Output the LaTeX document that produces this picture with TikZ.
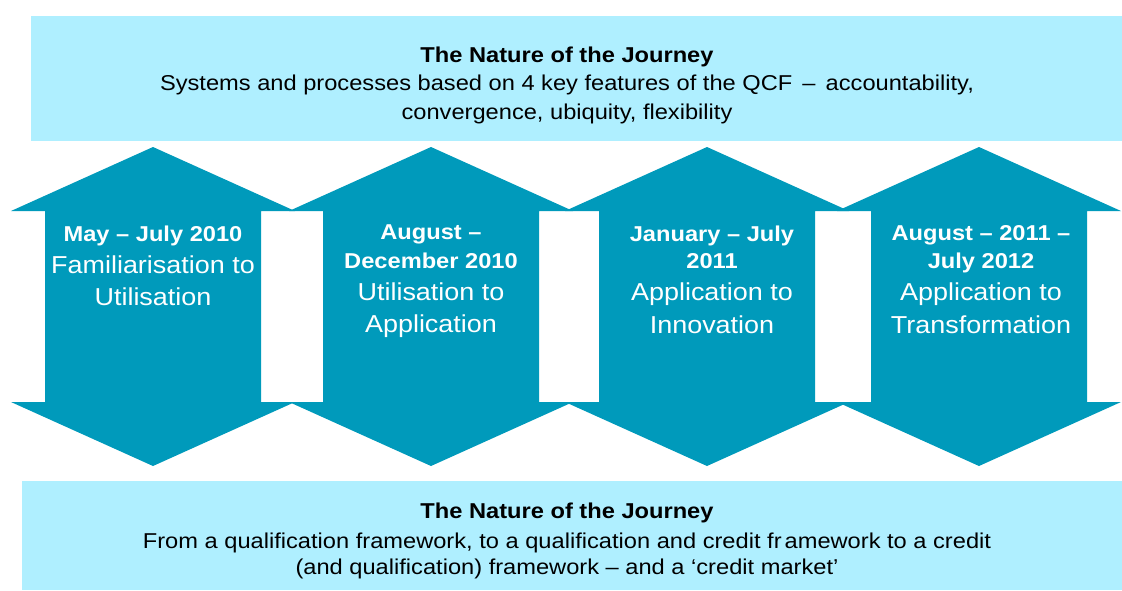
\documentclass[tikz,border=0pt]{standalone}
\usepackage{fontspec}
\setmainfont{Liberation Sans}[FakeStretch=1.1]
\definecolor{boxc}{RGB}{175,239,255}
\definecolor{arrowc}{RGB}{0,154,187}
\begin{document}
\begin{tikzpicture}[x=1pt,y=-1pt,
  panel/.style={fill=boxc},
  phase/.style={fill=arrowc},
  boxtxt/.style={anchor=base,inner sep=0pt,text=black,font=\fontsize{21.5}{26}\selectfont},
  boxtitle/.style={boxtxt,font=\fontsize{21.5}{26}\selectfont\bfseries},
  phdate/.style={anchor=base,inner sep=0pt,text=white,font=\fontsize{21.5}{26}\selectfont\bfseries},
  phname/.style={anchor=base,inner sep=0pt,text=white,font=\fontsize{24.5}{30}\selectfont}]
\useasboundingbox (0,0) rectangle (1122,590);
% panels
\fill[panel] (31,16) rectangle (1122,141);
\fill[panel] (22,481) rectangle (1122,590);
% phase shapes
\foreach \c in {153,431,707,979}{
  \fill[phase] (\c,147) -- (\c+142,211) -- (\c+108,211) -- (\c+108,402) -- (\c+142,402)
    -- (\c,466) -- (\c-142,402) -- (\c-108,402) -- (\c-108,211) -- (\c-142,211) -- cycle;
}
% top panel text
\node[boxtitle] (t1) at (567,62.5) {The Nature of the Journey};
\node[boxtxt] (t2) at (567,90) {Systems and processes based on 4 key features of the QCF \,–\, accountability,};
\node[boxtxt] (t3) at (567,119) {convergence, ubiquity, flexibility};
% bottom panel text
\node[boxtitle] (b1) at (567,518) {The Nature of the Journey};
\node[boxtxt] (b2) at (567,548.3) {From a qualification framework, to a qualification and credit fr\kern3pt amework to a credit};
\node[boxtxt] (b3) at (567,574.5) {(and qualification) framework – and a `credit market'};
% phase 1
\node[phdate] (p1a) at (153,241.7) {May – July 2010};
\node[phname] (p1b) at (153,273.3) {Familiarisation to};
\node[phname] (p1c) at (153,305) {Utilisation};
% phase 2
\node[phdate] (p2a) at (431,239.5) {August –};
\node[phdate] (p2b) at (431,268.3) {December 2010};
\node[phname] (p2c) at (431,300.7) {Utilisation to};
\node[phname] (p2d) at (431,332.7) {Application};
% phase 3
\node[phdate] (p3a) at (712,241) {January – July};
\node[phdate] (p3b) at (712,268.3) {2011};
\node[phname] (p3c) at (712,300.7) {Application to};
\node[phname] (p3d) at (712,333.5) {Innovation};
% phase 4
\node[phdate] (p4a) at (981,240.7) {August – 2011 –};
\node[phdate] (p4b) at (981,268.3) {July 2012};
\node[phname] (p4c) at (981,300.7) {Application to};
\node[phname] (p4d) at (981,333.5) {Transformation};
\end{tikzpicture}
\end{document}
